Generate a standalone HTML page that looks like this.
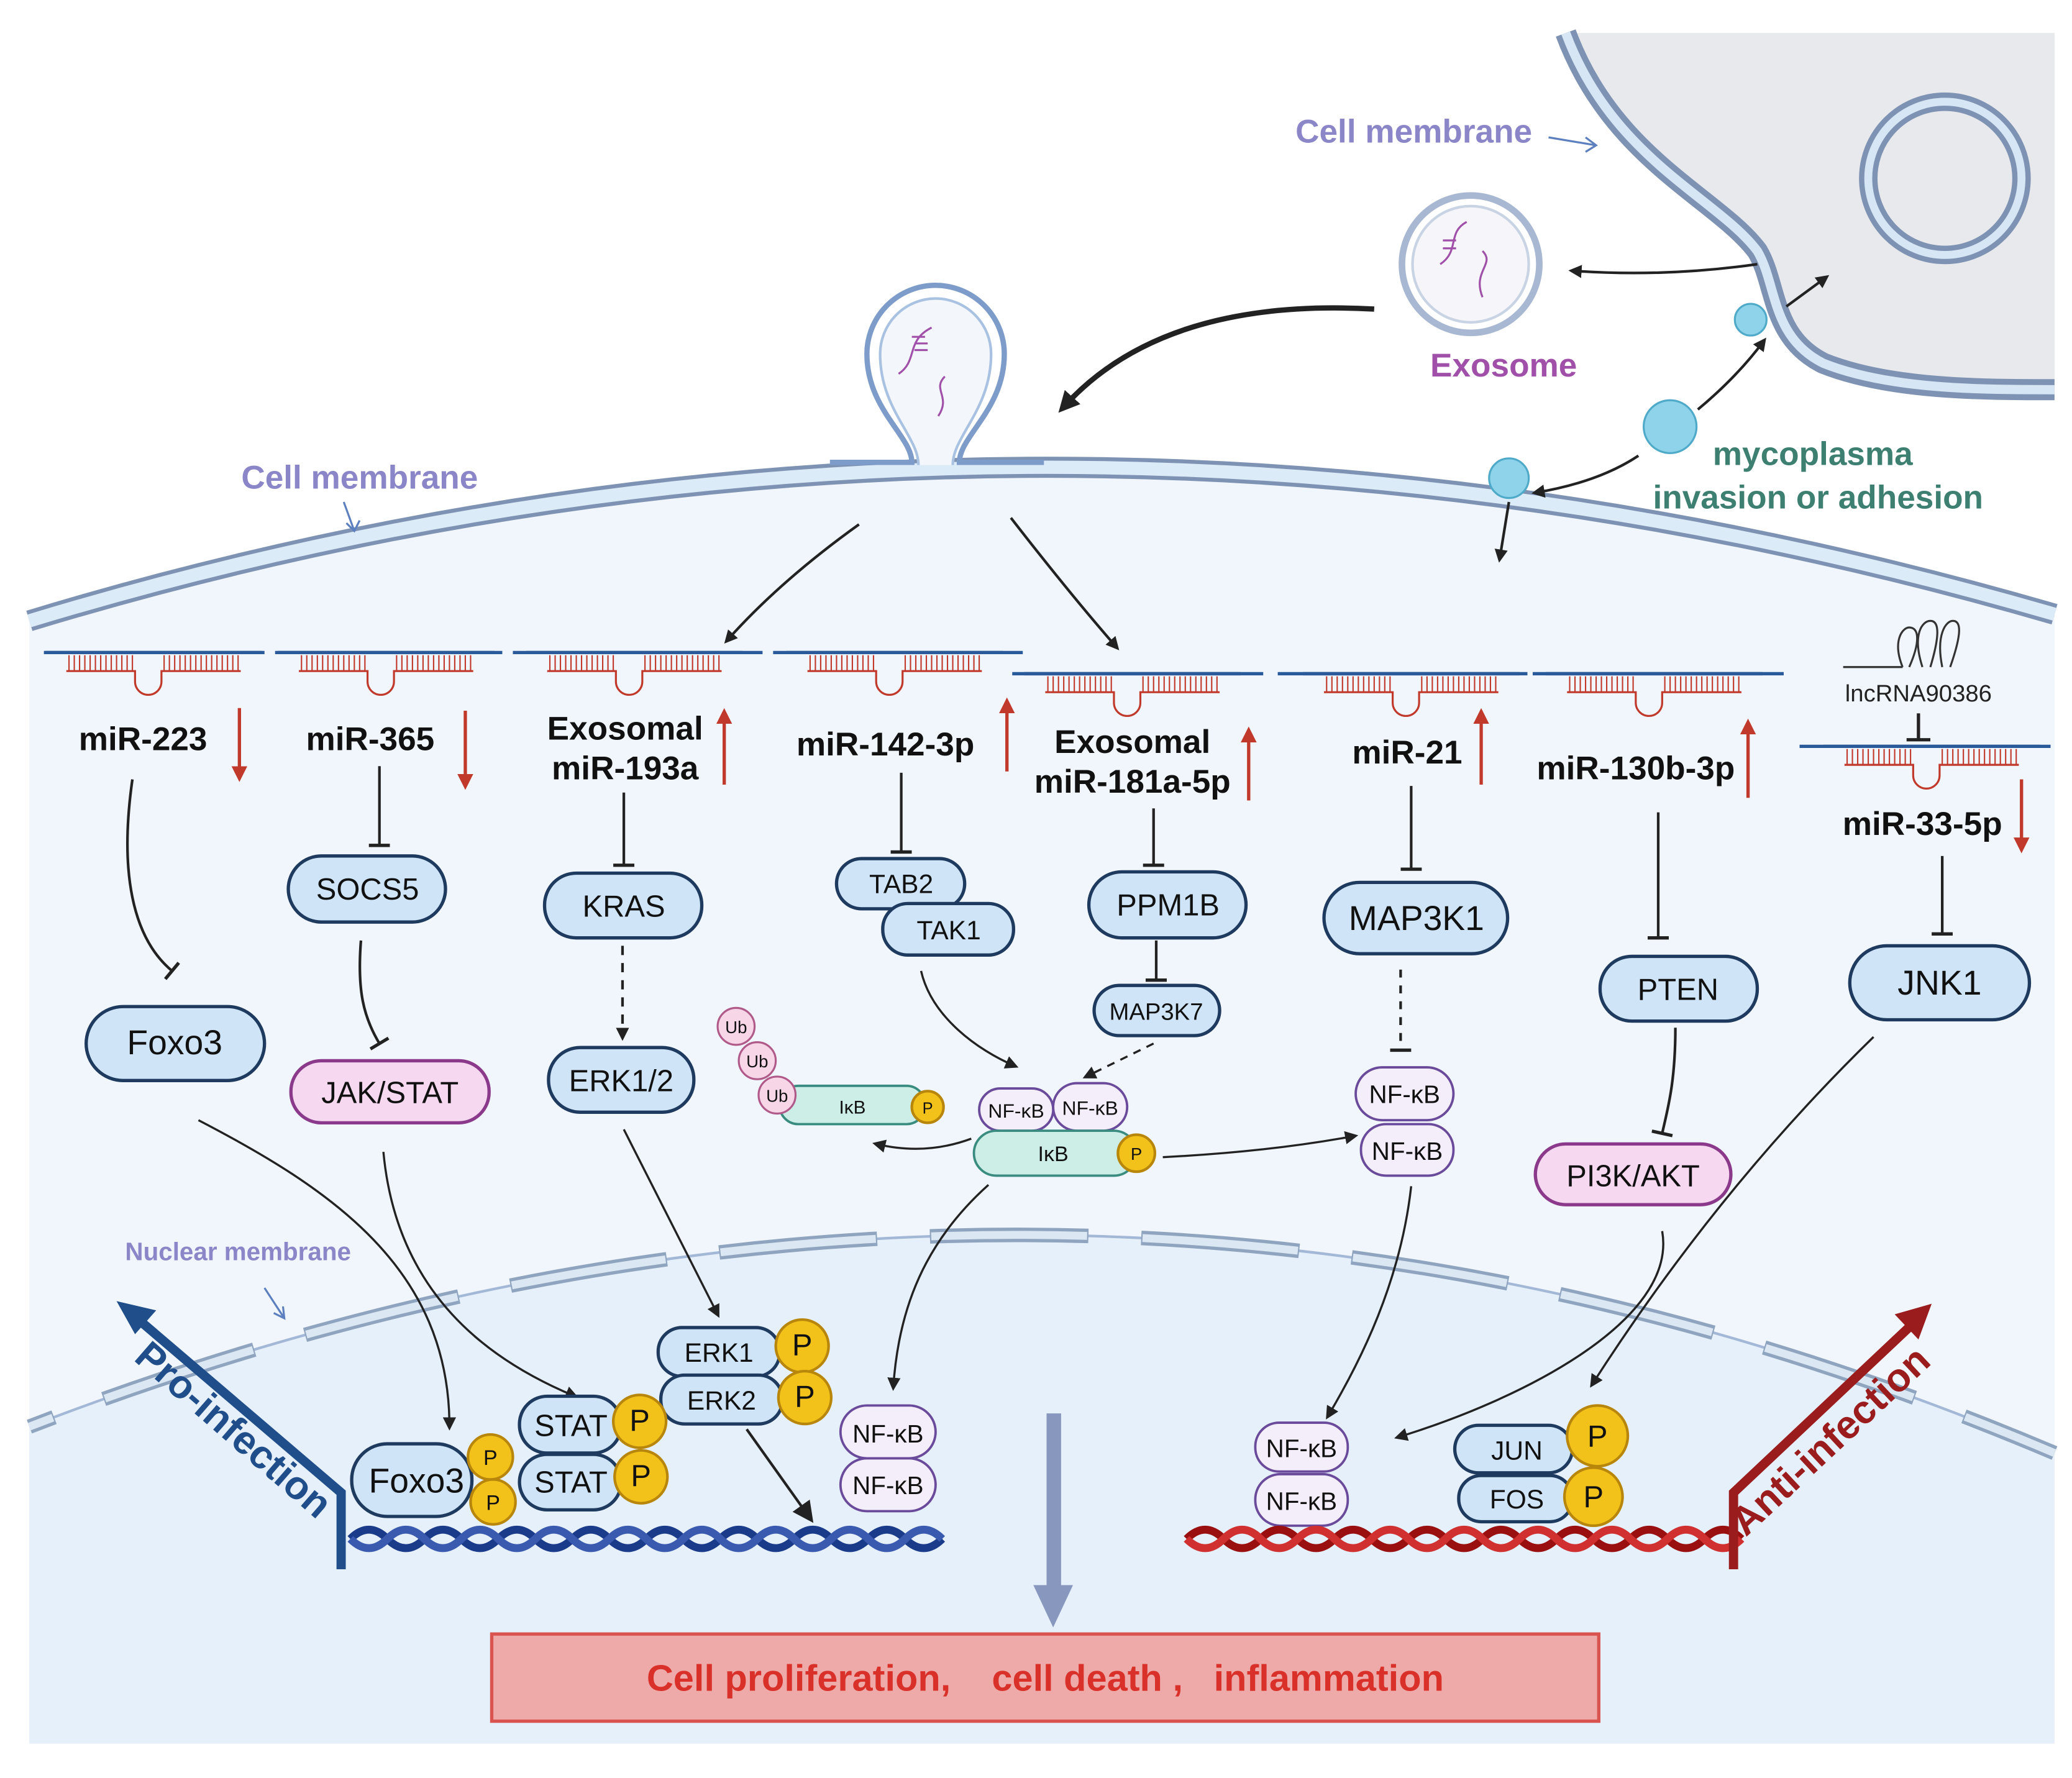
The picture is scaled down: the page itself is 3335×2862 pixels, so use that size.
<!DOCTYPE html>
<html><head><meta charset="utf-8"><style>html,body{margin:0;padding:0;background:#fff}svg{display:block}text{font-family:"Liberation Sans",sans-serif}</style></head><body>
<svg width="3335" height="2862" viewBox="0 0 1568 1346" xmlns="http://www.w3.org/2000/svg">
<defs>
<marker id="a" markerWidth="10" markerHeight="10" refX="7" refY="5" orient="auto" markerUnits="userSpaceOnUse"><path d="M0,0L10,5L0,10z" fill="#222"/></marker>
<marker id="ab" markerWidth="16" markerHeight="16" refX="10" refY="8" orient="auto" markerUnits="userSpaceOnUse"><path d="M0,0L16,8L0,16z" fill="#222"/></marker>
<marker id="t" markerWidth="16" markerHeight="16" refX="2" refY="8" orient="auto" markerUnits="userSpaceOnUse"><path d="M2,0V16" stroke="#222" stroke-width="2.5"/></marker>
<marker id="r" markerWidth="12" markerHeight="12" refX="6" refY="6" orient="auto" markerUnits="userSpaceOnUse"><path d="M0,0L12,6L0,12z" fill="#c0392b"/></marker>
<g id="mi"><path d="M-82,0H82" stroke="#2a5a9a" stroke-width="2.5"/><path d="M-64,2V14M-60,2V14M-56,2V14M-52,2V14M-48,2V14M-44,2V14M-40,2V14M-36,2V14M-32,2V14M-28,2V14M-24,2V14M-20,2V14M-16,2V14M8,2V14M12,2V14M16,2V14M20,2V14M24,2V14M28,2V14M32,2V14M36,2V14M40,2V14M44,2V14M48,2V14M52,2V14M56,2V14M60,2V14M64,2V14" stroke="#c0392b" stroke-width="1"/><path d="M-66,14H-14V22a10,10 0 0 0 20,0V14H66" stroke="#c0392b" stroke-width="1.5" fill="none"/></g>
</defs>
<path d="M1185,25 C1220,120 1300,150 1330,190 C1345,215 1340,255 1380,275 C1430,295 1500,295 1555,295 V25Z" fill="#e8e9ec"/>
<path d="M1185,25 C1220,120 1300,150 1330,190 C1345,215 1340,255 1380,275 C1430,295 1500,295 1555,295" fill="none" stroke="#7e93b3" stroke-width="16"/>
<path d="M1185,25 C1220,120 1300,150 1330,190 C1345,215 1340,255 1380,275 C1430,295 1500,295 1555,295" fill="none" stroke="#d6e6f5" stroke-width="7"/>
<circle cx="1472" cy="135" r="58" fill="none" stroke="#7e93b3" stroke-width="14"/><circle cx="1472" cy="135" r="58" fill="none" stroke="#d6e6f5" stroke-width="6"/>
<path d="M22,470 Q780,240 1555,465 V1320 H22Z" fill="#f1f6fc"/>
<path d="M22,470 Q780,240 1555,465" fill="none" stroke="#7e93b3" stroke-width="16"/>
<path d="M22,470 Q780,240 1555,465" fill="none" stroke="#dcebf8" stroke-width="10"/>
<path d="M22,1080 Q800,780 1555,1100 V1320 H22Z" fill="#e6f0fa"/>
<path d="M22,1080 Q800,780 1555,1100" fill="none" stroke="#a3b8d6" stroke-width="2"/>
<path d="M22,1080 Q800,780 1555,1100" fill="none" stroke="#8fa4bf" stroke-width="11" stroke-dasharray="120,40" stroke-dashoffset="-60"/>
<path d="M22,1080 Q800,780 1555,1100" fill="none" stroke="#dbe7f3" stroke-width="6" stroke-dasharray="118,42" stroke-dashoffset="-61"/>
<path d="M628,350 H690 C690,330 656,310 656,268 a52,52 0 1 1 104,0 C760,310 726,330 726,350 H790" fill="none" stroke="#7e9cc9" stroke-width="4"/>
<path d="M695,352 C695,330 666,310 666,268 a42,42 0 1 1 84,0 C750,310 721,330 721,352" fill="#f3f6fb" stroke="#a9c2e2" stroke-width="2"/>
<path d="M690,255 l10,0 m-8,5 l10,0 m-10,5 l10,0 M705,248 c-20,10 -10,25 -25,35 M715,285 c-10,10 5,15 -5,30" stroke="#a050a8" stroke-width="1.5" fill="none"/>
<circle cx="1113" cy="200" r="52" fill="#fff" stroke="#a9b8d2" stroke-width="5"/><circle cx="1113" cy="200" r="44" fill="#f6f6fa" stroke="#c8d3e4" stroke-width="2"/>
<path d="M1110,168 c-15,8 -5,22 -20,32 M1122,190 c10,10 -8,15 0,35 M1092,182 l10,0 m-10,6 l10,0" stroke="#a050a8" stroke-width="1.5" fill="none"/>
<circle cx="1325" cy="242" r="12" fill="#8fd3ea" stroke="#4fa9c9" stroke-width="1.5"/>
<circle cx="1264" cy="323" r="20" fill="#8fd3ea" stroke="#4fa9c9" stroke-width="1.5"/>
<circle cx="1142" cy="362" r="15" fill="#8fd3ea" stroke="#4fa9c9" stroke-width="1.5"/>
<g stroke="#222" stroke-width="2" fill="none" marker-end="url(#a)">
<path d="M1285,310 Q1315,285 1335,258"/><path d="M1240,345 Q1210,365 1162,373"/><path d="M1142,380 L1135,423"/><path d="M1352,232 L1382,210"/>
<path d="M1330,200 Q1260,210 1190,205"/>
<path d="M650,397 Q590,440 550,485"/><path d="M765,392 Q810,450 845,490"/>
</g>
<path d="M1040,234 Q880,225 805,308" stroke="#222" stroke-width="4" fill="none" marker-end="url(#ab)"/>
<g font-weight="bold" font-size="25" text-anchor="middle">
<text x="1070" y="108" fill="#8a86c8">Cell membrane</text>
<text x="272" y="370" fill="#8a86c8">Cell membrane</text>
<text x="1138" y="285" fill="#a050a8">Exosome</text>
<text x="1372" y="352" fill="#3d7f70">mycoplasma</text>
<text x="1376" y="385" fill="#3d7f70">invasion or adhesion</text>
<text x="180" y="954" fill="#8a86c8" font-size="19">Nuclear membrane</text>
</g>
<g stroke="#5b7fbf" stroke-width="1.5" fill="none"><path d="M1172,104 L1208,110"/><path d="M1200,104 L1208,110 L1200,115"/><path d="M260,380 L268,402 M262,396 L268,402 L272,394"/><path d="M200,975 L215,998 M207,994 L215,998 L214,989"/></g>
<use href="#mi" x="116" y="494"/><use href="#mi" x="292" y="494"/><use href="#mi" x="480" y="494"/><use href="#mi" x="677" y="494"/><use href="#mi" x="857" y="510"/><use href="#mi" x="1068" y="510"/><use href="#mi" x="1252" y="510"/><use href="#mi" x="1462" y="565"/>
<path d="M33,494H200M208,494H380M388,494H577M585,494H774M766,510H956M967,510H1156M1160,510H1350M1362,565H1552" stroke="#2a5a9a" stroke-width="2.5"/>
<path d="M1395,505 H1440 M1440,505 c-8,-20 0,-30 5,-30 c8,0 8,12 0,30 M1455,505 c-8,-25 0,-35 6,-35 c8,0 6,15 0,35 M1470,505 c-5,-25 3,-35 8,-35 c8,0 5,15 -2,35" stroke="#333" stroke-width="1.5" fill="none"/>
<text x="1452" y="531" font-size="18" text-anchor="middle" fill="#222">lncRNA90386</text>
<path d="M1452,540V560 M1443,560H1461" stroke="#222" stroke-width="2.5"/>
<g font-weight="bold" font-size="25" text-anchor="middle" fill="#111">
<text x="108" y="568">miR-223</text><text x="280" y="568">miR-365</text>
<text x="473" y="560">Exosomal</text><text x="473" y="590">miR-193a</text>
<text x="670" y="572">miR-142-3p</text>
<text x="857" y="570">Exosomal</text><text x="857" y="600">miR-181a-5p</text>
<text x="1065" y="578">miR-21</text><text x="1238" y="590">miR-130b-3p</text><text x="1455" y="632">miR-33-5p</text>
</g>
<g stroke="#c0392b" stroke-width="2.5" marker-end="url(#r)">
<path d="M181,536V586"/><path d="M352,538V592"/><path d="M548,594V542"/><path d="M762,584V534"/><path d="M945,606V556"/><path d="M1121,594V542"/><path d="M1323,604V550"/><path d="M1530,590V640"/>
</g>
<g stroke="#222" stroke-width="2" fill="none" marker-end="url(#t)">
<path d="M100,590 C90,660 100,710 130,735"/><path d="M287,580V640"/><path d="M472,600V655"/><path d="M682,585V645"/><path d="M873,612V655"/><path d="M1068,595V658"/><path d="M1255,615V710"/><path d="M1470,648V707"/>
<path d="M273,712 C270,750 275,770 287,790"/><path d="M875,712V742"/><path d="M1060,734V795" stroke-dasharray="6,6"/><path d="M1268,778 C1268,820 1262,840 1258,858"/>
</g>
<g stroke="#222" stroke-width="1.6" fill="none" marker-end="url(#a)">
<path d="M471,716V785" stroke-dasharray="7,6" stroke-width="2"/>
<path d="M697,735 C705,770 740,795 768,807"/>
<path d="M873,790 L822,815" stroke-dasharray="6,5"/>
<path d="M880,876 Q960,872 1025,860"/>
<path d="M735,862 Q700,875 663,866"/>
<path d="M150,848 C250,900 340,960 340,1080"/>
<path d="M290,872 C300,980 370,1030 435,1057"/>
<path d="M472,855 L543,995"/>
<path d="M748,897 C700,940 680,990 676,1050"/>
<path d="M1068,898 C1060,970 1030,1030 1005,1072"/>
<path d="M1258,932 C1270,1000 1150,1060 1058,1088"/>
<path d="M1418,785 Q1300,900 1205,1048"/>
</g>
<path d="M565,1082 L612,1148" stroke="#222" stroke-width="2" marker-end="url(#ab)"/>
<g stroke="#1f3a5f" stroke-width="2.5" fill="#cfe5f7">
<rect x="65" y="762" width="135" height="56" rx="28"/><rect x="218" y="648" width="119" height="50" rx="25"/>
<rect x="412" y="661" width="119" height="49" rx="24"/><rect x="415" y="793" width="110" height="49" rx="24"/>
<rect x="633" y="650" width="97" height="38" rx="19"/><rect x="668" y="684" width="99" height="39" rx="19"/>
<rect x="824" y="660" width="119" height="50" rx="25"/><rect x="828" y="746" width="95" height="38" rx="19"/>
<rect x="1002" y="668" width="139" height="54" rx="27"/><rect x="1211" y="724" width="119" height="49" rx="24"/>
<rect x="1400" y="716" width="136" height="56" rx="28"/>
<rect x="266" y="1093" width="91" height="55" rx="27"/><rect x="393" y="1057" width="77" height="43" rx="21"/><rect x="393" y="1101" width="77" height="42" rx="21"/>
<rect x="498" y="1005" width="92" height="37" rx="18"/><rect x="500" y="1041" width="92" height="37" rx="18"/>
<rect x="1101" y="1079" width="89" height="36" rx="18"/><rect x="1104" y="1117" width="86" height="35" rx="17"/>
</g>
<g stroke="#8b3a8b" stroke-width="2.5" fill="#f6d8f0">
<rect x="220" y="803" width="150" height="47" rx="23"/><rect x="1162" y="866" width="148" height="46" rx="23"/>
</g>
<g stroke="#6a4a9a" stroke-width="1.8" fill="#f4eefa">
<rect x="1026" y="808" width="74" height="40" rx="20"/><rect x="1030" y="851" width="70" height="39" rx="19"/>
<rect x="741" y="824" width="56" height="32" rx="16"/><rect x="797" y="820" width="56" height="36" rx="18"/>
<rect x="636" y="1064" width="72" height="40" rx="20"/><rect x="636" y="1104" width="72" height="40" rx="20"/>
<rect x="950" y="1077" width="70" height="37" rx="18"/><rect x="950" y="1116" width="70" height="39" rx="19"/>
</g>
<g stroke="#3a8c80" stroke-width="1.8" fill="#cdeee6"><rect x="737" y="856" width="123" height="34" rx="17"/><rect x="590" y="822" width="110" height="29" rx="14"/></g>
<g stroke="#b05a8a" stroke-width="1.5" fill="#f7d6e8"><circle cx="557" cy="777" r="14"/><circle cx="573" cy="803" r="14"/><circle cx="588" cy="829" r="14"/></g>
<g stroke="#b8860b" stroke-width="2" fill="#f2c21b">
<circle cx="860" cy="873" r="14"/><circle cx="702" cy="838" r="12"/>
<circle cx="371" cy="1103" r="17"/><circle cx="373" cy="1137" r="17"/><circle cx="484" cy="1076" r="20"/><circle cx="485" cy="1118" r="20"/>
<circle cx="607" cy="1019" r="20"/><circle cx="609" cy="1058" r="20"/><circle cx="1209" cy="1087" r="23"/><circle cx="1206" cy="1133" r="22"/>
</g>
<g font-size="23" text-anchor="middle" fill="#111">
<text x="132" y="798" font-size="26">Foxo3</text><text x="278" y="681">SOCS5</text><text x="472" y="694">KRAS</text><text x="470" y="826">ERK1/2</text>
<text x="682" y="676" font-size="20">TAB2</text><text x="718" y="711" font-size="20">TAK1</text><text x="884" y="693">PPM1B</text><text x="875" y="772" font-size="18">MAP3K7</text>
<text x="1072" y="704" font-size="26">MAP3K1</text><text x="1270" y="757">PTEN</text><text x="1468" y="753" font-size="26">JNK1</text>
<text x="295" y="835">JAK/STAT</text><text x="1236" y="898">PI3K/AKT</text>
<text x="1063" y="835" font-size="19">NF-κB</text><text x="1065" y="878" font-size="19">NF-κB</text>
<text x="769" y="846" font-size="15">NF-κB</text><text x="825" y="844" font-size="15">NF-κB</text><text x="797" y="879" font-size="16">IκB</text><text x="645" y="843" font-size="14">IκB</text>
<text x="557" y="782" font-size="13">Ub</text><text x="573" y="808" font-size="13">Ub</text><text x="588" y="834" font-size="13">Ub</text>
<text x="860" y="878" font-size="13">P</text><text x="702" y="843" font-size="12">P</text>
<text x="672" y="1092" font-size="19">NF-κB</text><text x="672" y="1131" font-size="19">NF-κB</text><text x="985" y="1103" font-size="19">NF-κB</text><text x="985" y="1143" font-size="19">NF-κB</text>
<text x="315" y="1130" font-size="26">Foxo3</text><text x="432" y="1087">STAT</text><text x="432" y="1130">STAT</text>
<text x="544" y="1031" font-size="20">ERK1</text><text x="546" y="1067" font-size="20">ERK2</text>
<text x="1148" y="1105" font-size="20">JUN</text><text x="1148" y="1142" font-size="20">FOS</text>
<text x="371" y="1109" font-size="16">P</text><text x="373" y="1143" font-size="16">P</text><text x="484" y="1083">P</text><text x="485" y="1125">P</text>
<text x="607" y="1026">P</text><text x="609" y="1065">P</text><text x="1209" y="1095">P</text><text x="1206" y="1141">P</text>
</g>
<g fill="none" stroke-width="6">
<path d="M265,1165 q14,-14 28,0 t28,0 t28,0 t28,0 t28,0 t28,0 t28,0 t28,0 t28,0 t28,0 t28,0 t28,0 t28,0 t28,0 t28,0 t28,0" stroke="#1a3a8a"/>
<path d="M265,1165 q14,14 28,0 t28,0 t28,0 t28,0 t28,0 t28,0 t28,0 t28,0 t28,0 t28,0 t28,0 t28,0 t28,0 t28,0 t28,0 t28,0" stroke="#3a5ab0"/>
<path d="M898,1165 q14,-14 28,0 t28,0 t28,0 t28,0 t28,0 t28,0 t28,0 t28,0 t28,0 t28,0 t28,0 t28,0 t28,0 t28,0 t28,0" stroke="#9a1010"/>
<path d="M898,1165 q14,14 28,0 t28,0 t28,0 t28,0 t28,0 t28,0 t28,0 t28,0 t28,0 t28,0 t28,0 t28,0 t28,0 t28,0 t28,0" stroke="#d03030"/>
</g>
<path d="M258,1188 V1130 L100,995" fill="none" stroke="#1f4e8a" stroke-width="7"/><path d="M88,985 L118,992 L102,1010Z" fill="#1f4e8a"/>
<path d="M1312,1188 V1130 L1450,1000" fill="none" stroke="#9b1c1c" stroke-width="7"/><path d="M1462,987 L1434,995 L1452,1014Z" fill="#9b1c1c"/>
<text x="170" y="1090" transform="rotate(41 170 1090)" font-size="30" font-weight="bold" fill="#1f4e8a" text-anchor="middle">Pro-infection</text>
<text x="1392" y="1098" transform="rotate(-43 1392 1098)" font-size="30" font-weight="bold" fill="#9b1c1c" text-anchor="middle">Anti-infection</text>
<path d="M792,1070 H803 V1200 H812 L797,1232 L782,1200 H792Z" fill="#8897bd"/>
<rect x="372" y="1237" width="838" height="66" fill="#eeaaa8" stroke="#d9534f" stroke-width="2.5"/>
<text x="791" y="1280" font-size="28" font-weight="bold" fill="#d9302a" text-anchor="middle" xml:space="preserve">Cell proliferation,    cell death ,   inflammation</text>
</svg>
</body></html>
